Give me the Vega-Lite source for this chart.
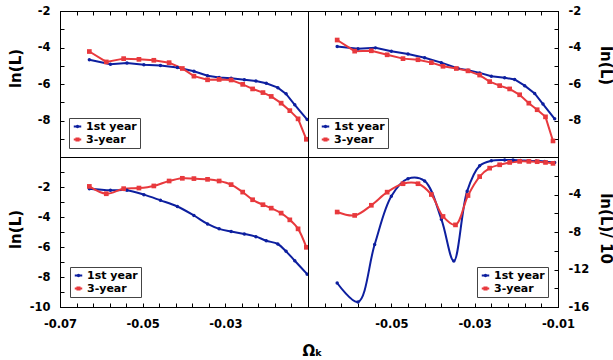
{
  "$schema": "https://vega.github.io/schema/vega-lite/v6.json",
  "padding": {"left": 7, "top": 4, "right": 0, "bottom": 0},
  "background": "white",
  "datasets": {
    "curves": [
      {"panel":"Quaternionic","series":"1st year","omega":-0.0629,"lnL":-4.67},
      {"panel":"Quaternionic","series":"1st year","omega":-0.0578,"lnL":-4.92},
      {"panel":"Quaternionic","series":"1st year","omega":-0.0538,"lnL":-4.85},
      {"panel":"Quaternionic","series":"1st year","omega":-0.0497,"lnL":-4.94},
      {"panel":"Quaternionic","series":"1st year","omega":-0.0457,"lnL":-4.99},
      {"panel":"Quaternionic","series":"1st year","omega":-0.0416,"lnL":-5.10},
      {"panel":"Quaternionic","series":"1st year","omega":-0.0376,"lnL":-5.30},
      {"panel":"Quaternionic","series":"1st year","omega":-0.0343,"lnL":-5.55},
      {"panel":"Quaternionic","series":"1st year","omega":-0.0315,"lnL":-5.64},
      {"panel":"Quaternionic","series":"1st year","omega":-0.0286,"lnL":-5.69},
      {"panel":"Quaternionic","series":"1st year","omega":-0.0254,"lnL":-5.77},
      {"panel":"Quaternionic","series":"1st year","omega":-0.0226,"lnL":-5.84},
      {"panel":"Quaternionic","series":"1st year","omega":-0.0201,"lnL":-5.96},
      {"panel":"Quaternionic","series":"1st year","omega":-0.0173,"lnL":-6.20},
      {"panel":"Quaternionic","series":"1st year","omega":-0.0153,"lnL":-6.54},
      {"panel":"Quaternionic","series":"1st year","omega":-0.0132,"lnL":-7.14},
      {"panel":"Quaternionic","series":"1st year","omega":-0.0102,"lnL":-7.95},
      {"panel":"Quaternionic","series":"3-year","omega":-0.0629,"lnL":-4.22},
      {"panel":"Quaternionic","series":"3-year","omega":-0.0588,"lnL":-4.79},
      {"panel":"Quaternionic","series":"3-year","omega":-0.0546,"lnL":-4.61},
      {"panel":"Quaternionic","series":"3-year","omega":-0.0509,"lnL":-4.65},
      {"panel":"Quaternionic","series":"3-year","omega":-0.0473,"lnL":-4.70},
      {"panel":"Quaternionic","series":"3-year","omega":-0.0436,"lnL":-4.83},
      {"panel":"Quaternionic","series":"3-year","omega":-0.0404,"lnL":-5.15},
      {"panel":"Quaternionic","series":"3-year","omega":-0.0376,"lnL":-5.57},
      {"panel":"Quaternionic","series":"3-year","omega":-0.0343,"lnL":-5.77},
      {"panel":"Quaternionic","series":"3-year","omega":-0.0315,"lnL":-5.75},
      {"panel":"Quaternionic","series":"3-year","omega":-0.0286,"lnL":-5.78},
      {"panel":"Quaternionic","series":"3-year","omega":-0.0258,"lnL":-6.02},
      {"panel":"Quaternionic","series":"3-year","omega":-0.0234,"lnL":-6.27},
      {"panel":"Quaternionic","series":"3-year","omega":-0.0209,"lnL":-6.47},
      {"panel":"Quaternionic","series":"3-year","omega":-0.0189,"lnL":-6.68},
      {"panel":"Quaternionic","series":"3-year","omega":-0.0165,"lnL":-7.05},
      {"panel":"Quaternionic","series":"3-year","omega":-0.0144,"lnL":-7.46},
      {"panel":"Quaternionic","series":"3-year","omega":-0.0124,"lnL":-7.91},
      {"panel":"Quaternionic","series":"3-year","omega":-0.0104,"lnL":-9.03},

      {"panel":"Octahedral","series":"1st year","omega":-0.0630,"lnL":-3.95},
      {"panel":"Octahedral","series":"1st year","omega":-0.0580,"lnL":-4.07},
      {"panel":"Octahedral","series":"1st year","omega":-0.0538,"lnL":-4.02},
      {"panel":"Octahedral","series":"1st year","omega":-0.0500,"lnL":-4.20},
      {"panel":"Octahedral","series":"1st year","omega":-0.0460,"lnL":-4.36},
      {"panel":"Octahedral","series":"1st year","omega":-0.0420,"lnL":-4.56},
      {"panel":"Octahedral","series":"1st year","omega":-0.0380,"lnL":-4.83},
      {"panel":"Octahedral","series":"1st year","omega":-0.0340,"lnL":-5.15},
      {"panel":"Octahedral","series":"1st year","omega":-0.0316,"lnL":-5.24},
      {"panel":"Octahedral","series":"1st year","omega":-0.0288,"lnL":-5.39},
      {"panel":"Octahedral","series":"1st year","omega":-0.0260,"lnL":-5.57},
      {"panel":"Octahedral","series":"1st year","omega":-0.0228,"lnL":-5.66},
      {"panel":"Octahedral","series":"1st year","omega":-0.0204,"lnL":-5.75},
      {"panel":"Octahedral","series":"1st year","omega":-0.0180,"lnL":-6.09},
      {"panel":"Octahedral","series":"1st year","omega":-0.0156,"lnL":-6.52},
      {"panel":"Octahedral","series":"1st year","omega":-0.0136,"lnL":-7.10},
      {"panel":"Octahedral","series":"1st year","omega":-0.0108,"lnL":-7.91},
      {"panel":"Octahedral","series":"3-year","omega":-0.0630,"lnL":-3.59},
      {"panel":"Octahedral","series":"3-year","omega":-0.0588,"lnL":-4.20},
      {"panel":"Octahedral","series":"3-year","omega":-0.0548,"lnL":-4.18},
      {"panel":"Octahedral","series":"3-year","omega":-0.0510,"lnL":-4.40},
      {"panel":"Octahedral","series":"3-year","omega":-0.0472,"lnL":-4.61},
      {"panel":"Octahedral","series":"3-year","omega":-0.0436,"lnL":-4.67},
      {"panel":"Octahedral","series":"3-year","omega":-0.0404,"lnL":-4.83},
      {"panel":"Octahedral","series":"3-year","omega":-0.0376,"lnL":-5.03},
      {"panel":"Octahedral","series":"3-year","omega":-0.0344,"lnL":-5.15},
      {"panel":"Octahedral","series":"3-year","omega":-0.0316,"lnL":-5.28},
      {"panel":"Octahedral","series":"3-year","omega":-0.0288,"lnL":-5.51},
      {"panel":"Octahedral","series":"3-year","omega":-0.0264,"lnL":-5.87},
      {"panel":"Octahedral","series":"3-year","omega":-0.0240,"lnL":-6.09},
      {"panel":"Octahedral","series":"3-year","omega":-0.0216,"lnL":-6.27},
      {"panel":"Octahedral","series":"3-year","omega":-0.0192,"lnL":-6.59},
      {"panel":"Octahedral","series":"3-year","omega":-0.0170,"lnL":-7.05},
      {"panel":"Octahedral","series":"3-year","omega":-0.0150,"lnL":-7.41},
      {"panel":"Octahedral","series":"3-year","omega":-0.0130,"lnL":-7.80},
      {"panel":"Octahedral","series":"3-year","omega":-0.0112,"lnL":-9.12},

      {"panel":"Truncated Cube","series":"1st year","omega":-0.0629,"lnL":-2.11},
      {"panel":"Truncated Cube","series":"1st year","omega":-0.0578,"lnL":-2.22},
      {"panel":"Truncated Cube","series":"1st year","omega":-0.0538,"lnL":-2.22},
      {"panel":"Truncated Cube","series":"1st year","omega":-0.0497,"lnL":-2.51},
      {"panel":"Truncated Cube","series":"1st year","omega":-0.0457,"lnL":-2.89},
      {"panel":"Truncated Cube","series":"1st year","omega":-0.0416,"lnL":-3.30},
      {"panel":"Truncated Cube","series":"1st year","omega":-0.0376,"lnL":-3.90},
      {"panel":"Truncated Cube","series":"1st year","omega":-0.0343,"lnL":-4.46},
      {"panel":"Truncated Cube","series":"1st year","omega":-0.0315,"lnL":-4.79},
      {"panel":"Truncated Cube","series":"1st year","omega":-0.0286,"lnL":-4.97},
      {"panel":"Truncated Cube","series":"1st year","omega":-0.0254,"lnL":-5.13},
      {"panel":"Truncated Cube","series":"1st year","omega":-0.0226,"lnL":-5.31},
      {"panel":"Truncated Cube","series":"1st year","omega":-0.0201,"lnL":-5.58},
      {"panel":"Truncated Cube","series":"1st year","omega":-0.0173,"lnL":-5.80},
      {"panel":"Truncated Cube","series":"1st year","omega":-0.0153,"lnL":-6.29},
      {"panel":"Truncated Cube","series":"1st year","omega":-0.0132,"lnL":-6.92},
      {"panel":"Truncated Cube","series":"1st year","omega":-0.0102,"lnL":-7.81},
      {"panel":"Truncated Cube","series":"3-year","omega":-0.0629,"lnL":-1.96},
      {"panel":"Truncated Cube","series":"3-year","omega":-0.0588,"lnL":-2.45},
      {"panel":"Truncated Cube","series":"3-year","omega":-0.0546,"lnL":-2.11},
      {"panel":"Truncated Cube","series":"3-year","omega":-0.0509,"lnL":-2.07},
      {"panel":"Truncated Cube","series":"3-year","omega":-0.0473,"lnL":-1.93},
      {"panel":"Truncated Cube","series":"3-year","omega":-0.0436,"lnL":-1.60},
      {"panel":"Truncated Cube","series":"3-year","omega":-0.0404,"lnL":-1.42},
      {"panel":"Truncated Cube","series":"3-year","omega":-0.0376,"lnL":-1.44},
      {"panel":"Truncated Cube","series":"3-year","omega":-0.0343,"lnL":-1.49},
      {"panel":"Truncated Cube","series":"3-year","omega":-0.0315,"lnL":-1.60},
      {"panel":"Truncated Cube","series":"3-year","omega":-0.0286,"lnL":-1.84},
      {"panel":"Truncated Cube","series":"3-year","omega":-0.0258,"lnL":-2.34},
      {"panel":"Truncated Cube","series":"3-year","omega":-0.0234,"lnL":-2.85},
      {"panel":"Truncated Cube","series":"3-year","omega":-0.0209,"lnL":-3.18},
      {"panel":"Truncated Cube","series":"3-year","omega":-0.0189,"lnL":-3.41},
      {"panel":"Truncated Cube","series":"3-year","omega":-0.0165,"lnL":-3.74},
      {"panel":"Truncated Cube","series":"3-year","omega":-0.0144,"lnL":-4.19},
      {"panel":"Truncated Cube","series":"3-year","omega":-0.0124,"lnL":-4.79},
      {"panel":"Truncated Cube","series":"3-year","omega":-0.0104,"lnL":-6.02},

      {"panel":"Poincaré","series":"1st year","omega":-0.0630,"lnL":-13.44},
      {"panel":"Poincaré","series":"1st year","omega":-0.0580,"lnL":-15.46},
      {"panel":"Poincaré","series":"1st year","omega":-0.0540,"lnL":-9.33},
      {"panel":"Poincaré","series":"1st year","omega":-0.0500,"lnL":-4.18},
      {"panel":"Poincaré","series":"1st year","omega":-0.0460,"lnL":-2.31},
      {"panel":"Poincaré","series":"1st year","omega":-0.0420,"lnL":-2.56},
      {"panel":"Poincaré","series":"1st year","omega":-0.0380,"lnL":-6.63},
      {"panel":"Poincaré","series":"1st year","omega":-0.0350,"lnL":-11.10},
      {"panel":"Poincaré","series":"1st year","omega":-0.0318,"lnL":-3.64},
      {"panel":"Poincaré","series":"1st year","omega":-0.0288,"lnL":-0.94},
      {"panel":"Poincaré","series":"1st year","omega":-0.0260,"lnL":-0.40},
      {"panel":"Poincaré","series":"1st year","omega":-0.0228,"lnL":-0.32},
      {"panel":"Poincaré","series":"1st year","omega":-0.0208,"lnL":-0.32},
      {"panel":"Poincaré","series":"1st year","omega":-0.0190,"lnL":-0.36},
      {"panel":"Poincaré","series":"1st year","omega":-0.0170,"lnL":-0.40},
      {"panel":"Poincaré","series":"1st year","omega":-0.0152,"lnL":-0.43},
      {"panel":"Poincaré","series":"1st year","omega":-0.0132,"lnL":-0.47},
      {"panel":"Poincaré","series":"1st year","omega":-0.0108,"lnL":-0.58},
      {"panel":"Poincaré","series":"3-year","omega":-0.0630,"lnL":-5.87},
      {"panel":"Poincaré","series":"3-year","omega":-0.0588,"lnL":-6.23},
      {"panel":"Poincaré","series":"3-year","omega":-0.0548,"lnL":-5.15},
      {"panel":"Poincaré","series":"3-year","omega":-0.0510,"lnL":-3.75},
      {"panel":"Poincaré","series":"3-year","omega":-0.0472,"lnL":-2.85},
      {"panel":"Poincaré","series":"3-year","omega":-0.0436,"lnL":-2.85},
      {"panel":"Poincaré","series":"3-year","omega":-0.0404,"lnL":-4.00},
      {"panel":"Poincaré","series":"3-year","omega":-0.0376,"lnL":-6.34},
      {"panel":"Poincaré","series":"3-year","omega":-0.0346,"lnL":-7.24},
      {"panel":"Poincaré","series":"3-year","omega":-0.0316,"lnL":-4.11},
      {"panel":"Poincaré","series":"3-year","omega":-0.0288,"lnL":-2.09},
      {"panel":"Poincaré","series":"3-year","omega":-0.0264,"lnL":-1.19},
      {"panel":"Poincaré","series":"3-year","omega":-0.0240,"lnL":-0.83},
      {"panel":"Poincaré","series":"3-year","omega":-0.0216,"lnL":-0.58},
      {"panel":"Poincaré","series":"3-year","omega":-0.0192,"lnL":-0.47},
      {"panel":"Poincaré","series":"3-year","omega":-0.0170,"lnL":-0.47},
      {"panel":"Poincaré","series":"3-year","omega":-0.0150,"lnL":-0.50},
      {"panel":"Poincaré","series":"3-year","omega":-0.0130,"lnL":-0.58},
      {"panel":"Poincaré","series":"3-year","omega":-0.0112,"lnL":-0.68}
    ]
  },
  "columns": 2,
  "spacing": 0,
  "bounds": "flush",
  "resolve": {
    "scale": {"x": "independent", "y": "independent", "color": "shared", "shape": "shared", "size": "shared"},
    "axis": {"x": "independent", "y": "independent"},
    "legend": {"color": "independent"}
  },
  "concat": [
    {
      "width": 248, "height": 146,
      "encoding": {
        "x": {"field": "omega", "type": "quantitative", "scale": {"domain": [-0.07, -0.01], "nice": false, "zero": false},
              "axis": {"orient": "top", "labels": false, "title": null,
                       "values": [-0.07,-0.066,-0.062,-0.058,-0.054,-0.05,-0.046,-0.042,-0.038,-0.034,-0.03,-0.026,-0.022,-0.018,-0.014,-0.01]}},
        "y": {"field": "lnL", "type": "quantitative", "scale": {"domain": [-10, -2], "nice": false, "zero": false},
              "axis": {"orient": "left", "title": "ln(L)", "titleX": -45, "titleY": 57, "titleBaseline": "middle", "titleAlign": "center",
                       "values": [-10,-9,-8,-7,-6,-5,-4,-3,-2],
                       "labelExpr": "datum.value % 2 === 0 && datum.value > -10 ? '-' + abs(datum.value) : ''"}}
      },
      "layer": [
        {"data": {"name": "curves"}, "transform": [{"filter": "datum.panel === 'Quaternionic'"}],
         "mark": {"type": "line", "strokeWidth": 2},
         "encoding": {"color": {"field": "series", "type": "nominal",
            "scale": {"domain": ["1st year", "3-year"], "range": ["#0d1f9f", "#e8393d"]},
            "legend": {"orient": "bottom-left", "title": null, "offset": 9,
              "encode": {"symbols": {"update": {"fill": {"scale": "color", "field": "value"}, "stroke": {"scale": "color", "field": "value"},
                "shape": {"signal": "datum.value === '1st year' ? 'M-1,0H1M0.2,0A0.2,0.2,0,1,1,-0.2,0A0.2,0.2,0,1,1,0.2,0Z' : 'M-1,0H1M-0.28,-0.28H0.28V0.28H-0.28Z'"}}}}}}}},
        {"data": {"name": "curves"}, "transform": [{"filter": "datum.panel === 'Quaternionic'"}],
         "mark": {"type": "point", "filled": true, "opacity": 1},
         "encoding": {"color": {"field": "series", "type": "nominal", "legend": null},
                      "shape": {"field": "series", "type": "nominal", "legend": null, "scale": {"domain": ["1st year", "3-year"], "range": ["circle", "square"]}},
                      "size": {"field": "series", "type": "nominal", "legend": null, "scale": {"domain": ["1st year", "3-year"], "range": [12, 22]}}}},
        {"data": {"values": [{"label": "Quaternionic"}]},
         "mark": {"type": "text", "fontSize": 15, "fontWeight": "bold", "font": "DejaVu Sans", "baseline": "middle", "align": "center", "color": "black"},
         "encoding": {"x": {"datum": -0.0315}, "y": {"datum": -8.76}, "text": {"field": "label"}}}
      ]
    },
    {
      "width": 250, "height": 146,
      "encoding": {
        "x": {"field": "omega", "type": "quantitative", "scale": {"domain": [-0.07, -0.01], "nice": false, "zero": false},
              "axis": {"orient": "top", "labels": false, "title": null,
                       "values": [-0.07,-0.066,-0.062,-0.058,-0.054,-0.05,-0.046,-0.042,-0.038,-0.034,-0.03,-0.026,-0.022,-0.018,-0.014,-0.01]}},
        "y": {"field": "lnL", "type": "quantitative", "scale": {"domain": [-10, -2], "nice": false, "zero": false},
              "axis": {"orient": "right", "title": "ln(L)", "titleX": 47, "titleY": 54, "titleBaseline": "middle", "titleAlign": "center",
                       "values": [-10,-9,-8,-7,-6,-5,-4,-3,-2],
                       "labelExpr": "datum.value % 2 === 0 && datum.value > -10 ? '-' + abs(datum.value) : ''"}}
      },
      "layer": [
        {"data": {"name": "curves"}, "transform": [{"filter": "datum.panel === 'Octahedral'"}],
         "mark": {"type": "line", "strokeWidth": 2},
         "encoding": {"color": {"field": "series", "type": "nominal",
            "legend": {"orient": "bottom-left", "title": null, "offset": 9,
              "encode": {"symbols": {"update": {"fill": {"scale": "color", "field": "value"}, "stroke": {"scale": "color", "field": "value"},
                "shape": {"signal": "datum.value === '1st year' ? 'M-1,0H1M0.2,0A0.2,0.2,0,1,1,-0.2,0A0.2,0.2,0,1,1,0.2,0Z' : 'M-1,0H1M-0.28,-0.28H0.28V0.28H-0.28Z'"}}}}}}}},
        {"data": {"name": "curves"}, "transform": [{"filter": "datum.panel === 'Octahedral'"}],
         "mark": {"type": "point", "filled": true, "opacity": 1},
         "encoding": {"color": {"field": "series", "type": "nominal", "legend": null},
                      "shape": {"field": "series", "type": "nominal", "legend": null},
                      "size": {"field": "series", "type": "nominal", "legend": null}}},
        {"data": {"values": [{"label": "Octahedral"}]},
         "mark": {"type": "text", "fontSize": 15, "fontWeight": "bold", "font": "DejaVu Sans", "baseline": "middle", "align": "center", "color": "black"},
         "encoding": {"x": {"datum": -0.0326}, "y": {"datum": -8.67}, "text": {"field": "label"}}}
      ]
    },
    {
      "width": 248, "height": 150,
      "encoding": {
        "x": {"field": "omega", "type": "quantitative", "scale": {"domain": [-0.07, -0.01], "nice": false, "zero": false},
              "axis": {"orient": "bottom", "title": "Ωₖ", "titleX": 252, "titleY": 43, "titleBaseline": "middle", "titleAlign": "center", "titleFontSize": 15, "labelPadding": 15,
                       "values": [-0.07,-0.066,-0.062,-0.058,-0.054,-0.05,-0.046,-0.042,-0.038,-0.034,-0.03,-0.026,-0.022,-0.018,-0.014,-0.01],
                       "labelExpr": "abs(datum.value + 0.07) < 1e-6 ? '-0.07' : abs(datum.value + 0.05) < 1e-6 ? '-0.05' : abs(datum.value + 0.03) < 1e-6 ? '-0.03' : ''"}},
        "y": {"field": "lnL", "type": "quantitative", "scale": {"domain": [-10, 0], "nice": false, "zero": false},
              "axis": {"orient": "left", "title": "ln(L)", "titleX": -45, "titleY": 72, "titleBaseline": "middle", "titleAlign": "center",
                       "values": [-10,-9,-8,-7,-6,-5,-4,-3,-2,-1,0],
                       "labelExpr": "datum.value % 2 === 0 && datum.value < 0 ? '-' + abs(datum.value) : ''"}}
      },
      "layer": [
        {"data": {"name": "curves"}, "transform": [{"filter": "datum.panel === 'Truncated Cube'"}],
         "mark": {"type": "line", "strokeWidth": 2, "interpolate": "catmull-rom"},
         "encoding": {"color": {"field": "series", "type": "nominal",
            "legend": {"orient": "bottom-left", "title": null, "offset": 10,
              "encode": {"symbols": {"update": {"fill": {"scale": "color", "field": "value"}, "stroke": {"scale": "color", "field": "value"},
                "shape": {"signal": "datum.value === '1st year' ? 'M-1,0H1M0.2,0A0.2,0.2,0,1,1,-0.2,0A0.2,0.2,0,1,1,0.2,0Z' : 'M-1,0H1M-0.28,-0.28H0.28V0.28H-0.28Z'"}}}}}}}},
        {"data": {"name": "curves"}, "transform": [{"filter": "datum.panel === 'Truncated Cube'"}],
         "mark": {"type": "point", "filled": true, "opacity": 1},
         "encoding": {"color": {"field": "series", "type": "nominal", "legend": null},
                      "shape": {"field": "series", "type": "nominal", "legend": null},
                      "size": {"field": "series", "type": "nominal", "legend": null}}},
        {"data": {"values": [{"label": "Truncated Cube"}]},
         "mark": {"type": "text", "fontSize": 15, "fontWeight": "bold", "font": "DejaVu Sans", "baseline": "middle", "align": "center", "color": "black"},
         "encoding": {"x": {"datum": -0.0319}, "y": {"datum": -8.2}, "text": {"field": "label"}}}
      ]
    },
    {
      "width": 250, "height": 150,
      "encoding": {
        "x": {"field": "omega", "type": "quantitative", "scale": {"domain": [-0.07, -0.01], "nice": false, "zero": false},
              "axis": {"orient": "bottom", "title": null, "labelPadding": 15,
                       "values": [-0.07,-0.066,-0.062,-0.058,-0.054,-0.05,-0.046,-0.042,-0.038,-0.034,-0.03,-0.026,-0.022,-0.018,-0.014,-0.01],
                       "labelExpr": "abs(datum.value + 0.05) < 1e-6 ? '-0.05' : abs(datum.value + 0.03) < 1e-6 ? '-0.03' : abs(datum.value + 0.01) < 1e-6 ? '-0.01' : ''"}},
        "y": {"field": "lnL", "type": "quantitative", "scale": {"domain": [-16, 0], "nice": false, "zero": false},
              "axis": {"orient": "right", "title": "ln(L)/ 10", "titleX": 47, "titleY": 71, "titleBaseline": "middle", "titleAlign": "center",
                       "values": [-16,-14,-12,-10,-8,-6,-4,-2,0],
                       "labelExpr": "datum.value % 4 === 0 && datum.value < 0 ? '-' + abs(datum.value) : ''"}}
      },
      "layer": [
        {"data": {"name": "curves"}, "transform": [{"filter": "datum.panel === 'Poincaré'"}],
         "mark": {"type": "line", "strokeWidth": 2, "interpolate": "catmull-rom"},
         "encoding": {"color": {"field": "series", "type": "nominal",
            "legend": {"orient": "bottom-right", "title": null, "offset": 10,
              "encode": {"symbols": {"update": {"fill": {"scale": "color", "field": "value"}, "stroke": {"scale": "color", "field": "value"},
                "shape": {"signal": "datum.value === '1st year' ? 'M-1,0H1M0.2,0A0.2,0.2,0,1,1,-0.2,0A0.2,0.2,0,1,1,0.2,0Z' : 'M-1,0H1M-0.28,-0.28H0.28V0.28H-0.28Z'"}}}}}}}},
        {"data": {"name": "curves"}, "transform": [{"filter": "datum.panel === 'Poincaré'"}],
         "mark": {"type": "point", "filled": true, "opacity": 1},
         "encoding": {"color": {"field": "series", "type": "nominal", "legend": null},
                      "shape": {"field": "series", "type": "nominal", "legend": null},
                      "size": {"field": "series", "type": "nominal", "legend": null}}},
        {"data": {"values": [{"label": "Poincaré"}]},
         "mark": {"type": "text", "fontSize": 15, "fontWeight": "bold", "font": "DejaVu Sans", "baseline": "middle", "align": "center", "color": "black"},
         "encoding": {"x": {"datum": -0.0425}, "y": {"datum": -13.1}, "text": {"field": "label"}}}
      ]
    }
  ],
  "config": {
    "font": "DejaVu Sans",
    "view": {"stroke": "black", "strokeWidth": 1},
    "axis": {
      "grid": false,
      "labelFont": "DejaVu Sans", "labelFontWeight": "bold", "labelFontSize": 11.5, "labelColor": "black",
      "titleFont": "DejaVu Sans", "titleFontWeight": "bold", "titleFontSize": 15, "titleColor": "black",
      "domainColor": "black", "tickColor": "black", "tickSize": -4, "labelPadding": 14, "labelOverlap": false, "labelFlush": false
    },
    "legend": {
      "labelFont": "DejaVu Sans", "labelFontSize": 11, "labelFontWeight": "bold", "labelColor": "black",
      "strokeColor": "#444", "fillColor": "white", "padding": 3, "symbolSize": 56, "symbolStrokeWidth": 2,
      "rowPadding": 1, "labelOffset": 3, "cornerRadius": 0
    }
  }
}
